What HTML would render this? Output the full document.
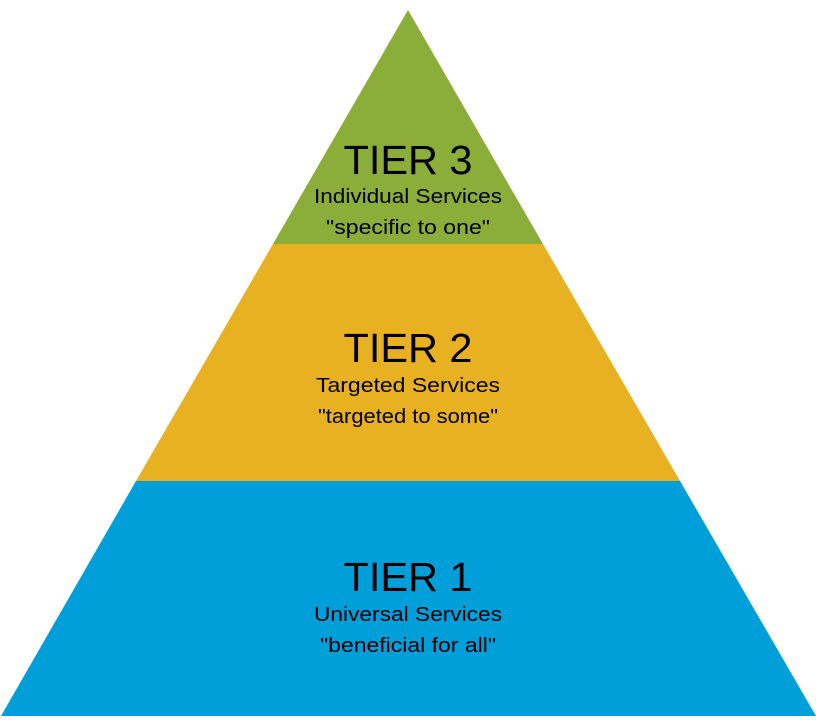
<!DOCTYPE html>
<html><head><style>html,body{margin:0;padding:0;background:#fff;}svg{display:block}</style></head>
<body>
<svg width="816" height="720" viewBox="0 0 816 720" xmlns="http://www.w3.org/2000/svg" font-family="Liberation Sans, sans-serif" text-anchor="middle" fill="#000">
<polygon points="408,10 273,244 543,244" fill="#8aae39"/>
<polygon points="273,244 543,244 680,481 136,481" fill="#e8b122"/>
<polygon points="136,481 680,481 816,716 1,716" fill="#009fda"/>
<text x="408" y="174" font-size="41" textLength="129" lengthAdjust="spacingAndGlyphs">TIER 3</text>
<text x="408" y="203" font-size="20.5" textLength="188" lengthAdjust="spacingAndGlyphs">Individual Services</text>
<text x="408" y="234" font-size="20.5" textLength="164" lengthAdjust="spacingAndGlyphs">"specific to one"</text>
<text x="408" y="362" font-size="41" textLength="129" lengthAdjust="spacingAndGlyphs">TIER 2</text>
<text x="408" y="392" font-size="20.5" textLength="184" lengthAdjust="spacingAndGlyphs">Targeted Services</text>
<text x="408" y="423" font-size="20.5" textLength="180" lengthAdjust="spacingAndGlyphs">"targeted to some"</text>
<text x="408" y="591" font-size="41" textLength="129" lengthAdjust="spacingAndGlyphs">TIER 1</text>
<text x="408" y="621" font-size="20.5" textLength="188" lengthAdjust="spacingAndGlyphs">Universal Services</text>
<text x="408" y="652" font-size="20.5" textLength="176" lengthAdjust="spacingAndGlyphs">"beneficial for all"</text>
</svg>
</body></html>
